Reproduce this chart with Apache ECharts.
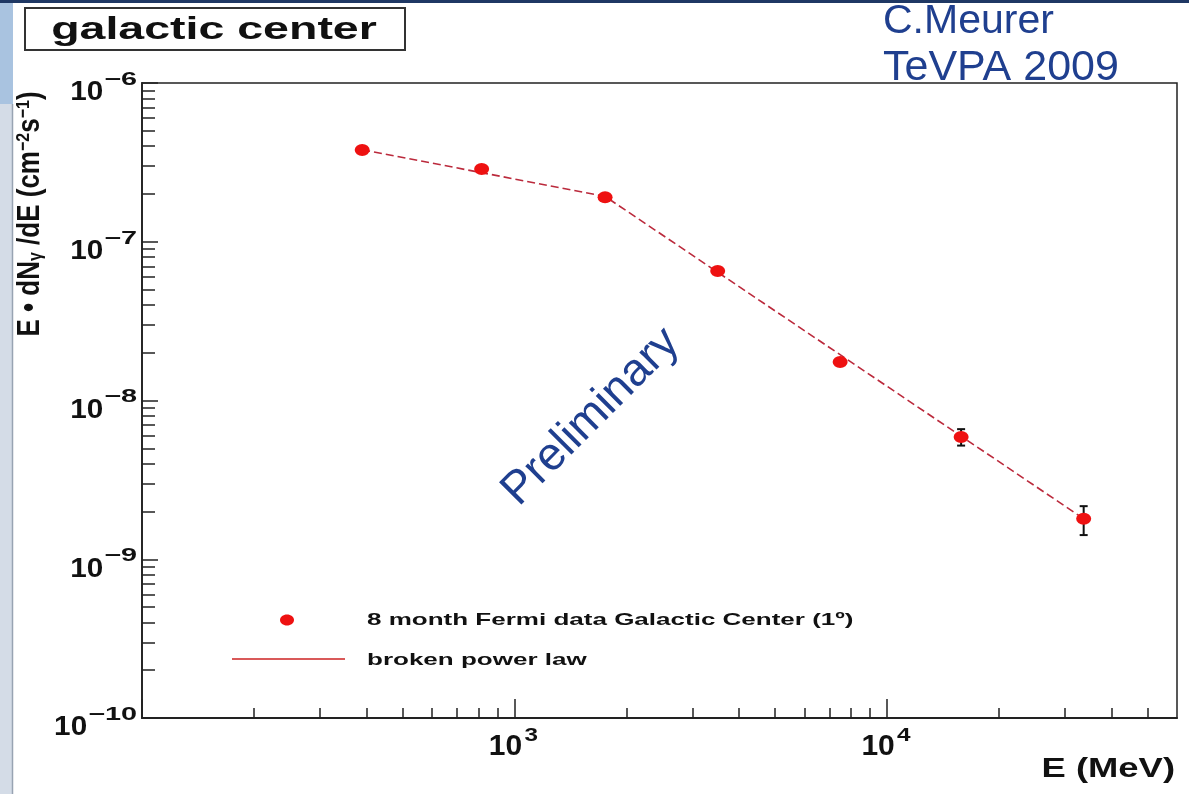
<!DOCTYPE html>
<html>
<head>
<meta charset="utf-8">
<script src="https://cdn.jsdelivr.net/npm/echarts@6/dist/echarts.min.js"></script>
<style>
  html, body { margin: 0; padding: 0; background: #ffffff; }
  #chart { width: 1189px; height: 794px; }
</style>
</head>
<body>
<div id="chart"></div>
<script>
// Galactic centre gamma-ray spectrum, E·dN/dE versus energy (log–log)
const energyMeV = [390, 816, 1750, 3510, 7480, 15800, 33700];
const fluxValue = [3.78e-7, 2.87e-7, 1.91e-7, 6.55e-8, 1.75e-8, 5.89e-9, 1.80e-9];
const errLow    = [null, null, null, null, null, 5.2e-9, 1.42e-9];
const errHigh   = [null, null, null, null, null, 6.6e-9, 2.16e-9];

// Broken power law: start, break, end
const fitEnergy = [390, 1750, 33700];
const fitFlux   = [3.8e-7, 1.93e-7, 1.8e-9];

const xRange = [100, 60000];
const yRange = [1e-10, 1e-6];
const xLabelPowers = [3, 4];
const yLabelPowers = [-10, -9, -8, -7, -6];
const legendNames = ['8 month Fermi data Galactic Center (1º)', 'broken power law'];

const FONT = '"Liberation Sans", Arial, Helvetica, sans-serif';
const lg = Math.log10;

function minorLogs(lo, hi) {
  const out = [];
  for (let d = Math.floor(lg(lo)); d <= Math.ceil(lg(hi)); d++) {
    for (let k = 2; k <= 9; k++) {
      const v = k * Math.pow(10, d);
      if (v > lo && v < hi) out.push(lg(v));
    }
  }
  return out;
}
function majorLogs(lo, hi) {
  const out = [];
  for (let d = Math.ceil(lg(lo)); d <= Math.floor(lg(hi)); d++) out.push(d);
  return out;
}

// text width helper for composing exponent labels
const measureCtx = document.createElement('canvas').getContext('2d');
function textWidth(str, font) {
  measureCtx.font = font;
  return measureCtx.measureText(str).width;
}

const xMin = lg(xRange[0]), xMax = lg(xRange[1]);
const yMin = lg(yRange[0]), yMax = lg(yRange[1]);
const axisColor = '#222';

const chart = echarts.init(document.getElementById('chart'), null, { renderer: 'canvas' });

const pointData = energyMeV.map((e, i) => [lg(e), lg(fluxValue[i])]);
const errData = [];
energyMeV.forEach((e, i) => {
  if (errLow[i] != null) errData.push([lg(e), lg(errLow[i]), lg(errHigh[i])]);
});
const fitData = fitEnergy.map((e, i) => [lg(e), lg(fitFlux[i])]);

chart.setOption({
  animation: false,
  backgroundColor: '#ffffff',
  grid: {
    left: 142, right: 12, top: 83, bottom: 76,
    show: true, borderColor: axisColor, borderWidth: 1.5, backgroundColor: 'transparent'
  },
  xAxis: [
    {
      type: 'value', min: xMin, max: xMax, position: 'bottom', gridIndex: 0,
      axisLine: { show: true, lineStyle: { color: axisColor, width: 1.8 } },
      axisTick: { show: true, inside: true, length: 19, customValues: majorLogs(xRange[0], xRange[1]),
                  lineStyle: { color: axisColor, width: 1.5 } },
      axisLabel: { show: false },
      splitLine: { show: false }
    },
    {
      type: 'value', min: xMin, max: xMax, position: 'bottom', gridIndex: 0,
      axisLine: { show: false },
      axisTick: { show: true, inside: true, length: 10, customValues: minorLogs(xRange[0], xRange[1]),
                  lineStyle: { color: axisColor, width: 1.5 } },
      axisLabel: { show: false },
      splitLine: { show: false }
    }
  ],
  yAxis: [
    {
      type: 'value', min: yMin, max: yMax, position: 'left', gridIndex: 0,
      axisLine: { show: true, lineStyle: { color: axisColor, width: 1.8 } },
      axisTick: { show: true, inside: true, length: 16, customValues: majorLogs(yRange[0], yRange[1]),
                  lineStyle: { color: axisColor, width: 1.5 } },
      axisLabel: { show: false },
      splitLine: { show: false }
    },
    {
      type: 'value', min: yMin, max: yMax, position: 'left', gridIndex: 0,
      axisLine: { show: false },
      axisTick: { show: true, inside: true, length: 13, customValues: minorLogs(yRange[0], yRange[1]),
                  lineStyle: { color: axisColor, width: 1.5 } },
      axisLabel: { show: false },
      splitLine: { show: false }
    }
  ],
  series: [
    {
      name: legendNames[1], type: 'line', xAxisIndex: 0, yAxisIndex: 0,
      data: fitData, showSymbol: false, symbol: 'none', z: 2,
      lineStyle: { color: '#bb2a3c', width: 1.6, type: [8, 4] }
    },
    {
      name: 'errors', type: 'custom', xAxisIndex: 0, yAxisIndex: 0, z: 3,
      data: errData,
      renderItem: function (params, api) {
        const x = api.value(0);
        const pLo = api.coord([x, api.value(1)]);
        const pHi = api.coord([x, api.value(2)]);
        const w = 4;
        const st = { stroke: '#111', lineWidth: 2 };
        return {
          type: 'group',
          children: [
            { type: 'line', shape: { x1: pLo[0], y1: pLo[1], x2: pHi[0], y2: pHi[1] }, style: st },
            { type: 'line', shape: { x1: pLo[0] - w, y1: pLo[1], x2: pLo[0] + w, y2: pLo[1] }, style: st },
            { type: 'line', shape: { x1: pHi[0] - w, y1: pHi[1], x2: pHi[0] + w, y2: pHi[1] }, style: st }
          ]
        };
      }
    },
    {
      name: legendNames[0], type: 'scatter', xAxisIndex: 0, yAxisIndex: 0, z: 5,
      data: pointData, symbol: 'circle', symbolSize: [15, 12],
      itemStyle: { color: '#ee1111', opacity: 1 }
    }
  ]
});

// Axis tick labels, placed from the axis scales
const graphics = [];
const mid = { textVerticalAlign: 'middle', verticalAlign: 'middle' };

xLabelPowers.forEach(p => {
  const px = chart.convertToPixel({ xAxisIndex: 0 }, p);
  graphics.push({
    type: 'text', x: px - 9, y: 747, z: 20,
    style: Object.assign({ text: '10', font: 'bold 30px ' + FONT, fill: '#111', textAlign: 'center' }, mid)
  });
  graphics.push({
    type: 'text', x: px + 10, y: 736, z: 20, scaleX: 1.35,
    style: Object.assign({ text: String(p), font: 'bold 18px ' + FONT, fill: '#111', textAlign: 'left' }, mid)
  });
});

const yLabelRight = 137;
const supFont = 'bold 18px ' + FONT, supScale = 1.6;
const baseFont = 'bold 27px ' + FONT, baseScale = 1.1;
yLabelPowers.forEach(p => {
  const py = chart.convertToPixel({ yAxisIndex: 0 }, p);
  const sup = '\u2212' + Math.abs(p);
  const supW = textWidth(sup, supFont) * supScale;
  graphics.push({
    type: 'text', x: yLabelRight, y: py - 3, z: 20, scaleX: supScale,
    style: Object.assign({ text: sup, font: supFont, fill: '#111', textAlign: 'right' }, mid)
  });
  graphics.push({
    type: 'text', x: yLabelRight - supW - 1, y: py + 10, z: 20, scaleX: baseScale,
    style: Object.assign({ text: '10', font: baseFont, fill: '#111', textAlign: 'right' }, mid)
  });
});

// Page frame: side strip and top rule
graphics.push(
  { type: 'rect', shape: { x: 0, y: 0, width: 12, height: 794 }, style: { fill: '#d4dce7' }, z: 1 },
  { type: 'rect', shape: { x: 0, y: 0, width: 13, height: 104 }, style: { fill: '#a9c3e0' }, z: 1 },
  { type: 'line', shape: { x1: 12.5, y1: 104, x2: 12.5, y2: 794 }, style: { stroke: '#98a3b2', lineWidth: 1.5 }, z: 1 },
  { type: 'rect', shape: { x: 0, y: 0, width: 1189, height: 3 }, style: { fill: '#1f3864' }, z: 30 }
);

// Title box
graphics.push(
  { type: 'rect', shape: { x: 25, y: 8, width: 380, height: 42 }, style: { fill: '#fff', stroke: '#333', lineWidth: 2 }, z: 10 },
  { type: 'text', x: 214, y: 30, z: 11, scaleX: 1.5,
    style: Object.assign({ text: 'galactic center', font: 'bold 31px ' + FONT, fill: '#111', textAlign: 'center' }, mid) }
);

// Author note
graphics.push(
  { type: 'text', x: 883, y: 22, z: 25,
    style: Object.assign({ text: 'C.Meurer', font: '41px ' + FONT, fill: '#1f3f8f', textAlign: 'left' }, mid) },
  { type: 'text', x: 883, y: 68, z: 25,
    style: Object.assign({ text: 'TeVPA 2009', font: '43px ' + FONT, fill: '#1f3f8f', textAlign: 'left' }, mid) }
);

// Watermark
graphics.push({
  type: 'text', x: 591, y: 417, z: 25, rotation: Math.PI / 4,
  style: Object.assign({ text: 'Preliminary', font: '46px ' + FONT, fill: '#1f3f8f', textAlign: 'center' }, mid)
});

// Axis titles
graphics.push({
  type: 'text', x: 1175, y: 769, z: 20, scaleX: 1.3,
  style: Object.assign({ text: 'E (MeV)', font: 'bold 28px ' + FONT, fill: '#111', textAlign: 'right' }, mid)
});
graphics.push({
  type: 'text', x: 30, y: 214, z: 20, rotation: Math.PI / 2, scaleY: 1.2,
  style: {
    text: '{m|E \u2022 dN}{sub|\u03b3}{m| /dE (cm}{sup|\u22122}{m|s}{sup|\u22121}{m|)}',
    textAlign: 'center', textVerticalAlign: 'middle', verticalAlign: 'middle',
    rich: {
      m:   { font: 'bold 26px ' + FONT, fill: '#111' },
      sub: { font: 'bold 16px ' + FONT, fill: '#111', verticalAlign: 'bottom' },
      sup: { font: 'bold 16px ' + FONT, fill: '#111', verticalAlign: 'top' }
    }
  }
});

// Legend
graphics.push(
  { type: 'ellipse', shape: { cx: 287, cy: 620, rx: 7, ry: 5.5 }, style: { fill: '#ee1111' }, z: 20 },
  { type: 'line', shape: { x1: 232, y1: 659, x2: 345, y2: 659 }, style: { stroke: '#cc2222', lineWidth: 1.5 }, z: 20 },
  { type: 'text', x: 367, y: 620, z: 20, scaleX: 1.53,
    style: Object.assign({ text: legendNames[0], font: 'bold 17px ' + FONT, fill: '#111', textAlign: 'left' }, mid) },
  { type: 'text', x: 367, y: 660, z: 20, scaleX: 1.53,
    style: Object.assign({ text: legendNames[1], font: 'bold 17px ' + FONT, fill: '#111', textAlign: 'left' }, mid) }
);

chart.setOption({ graphic: graphics });
</script>
</body>
</html>
